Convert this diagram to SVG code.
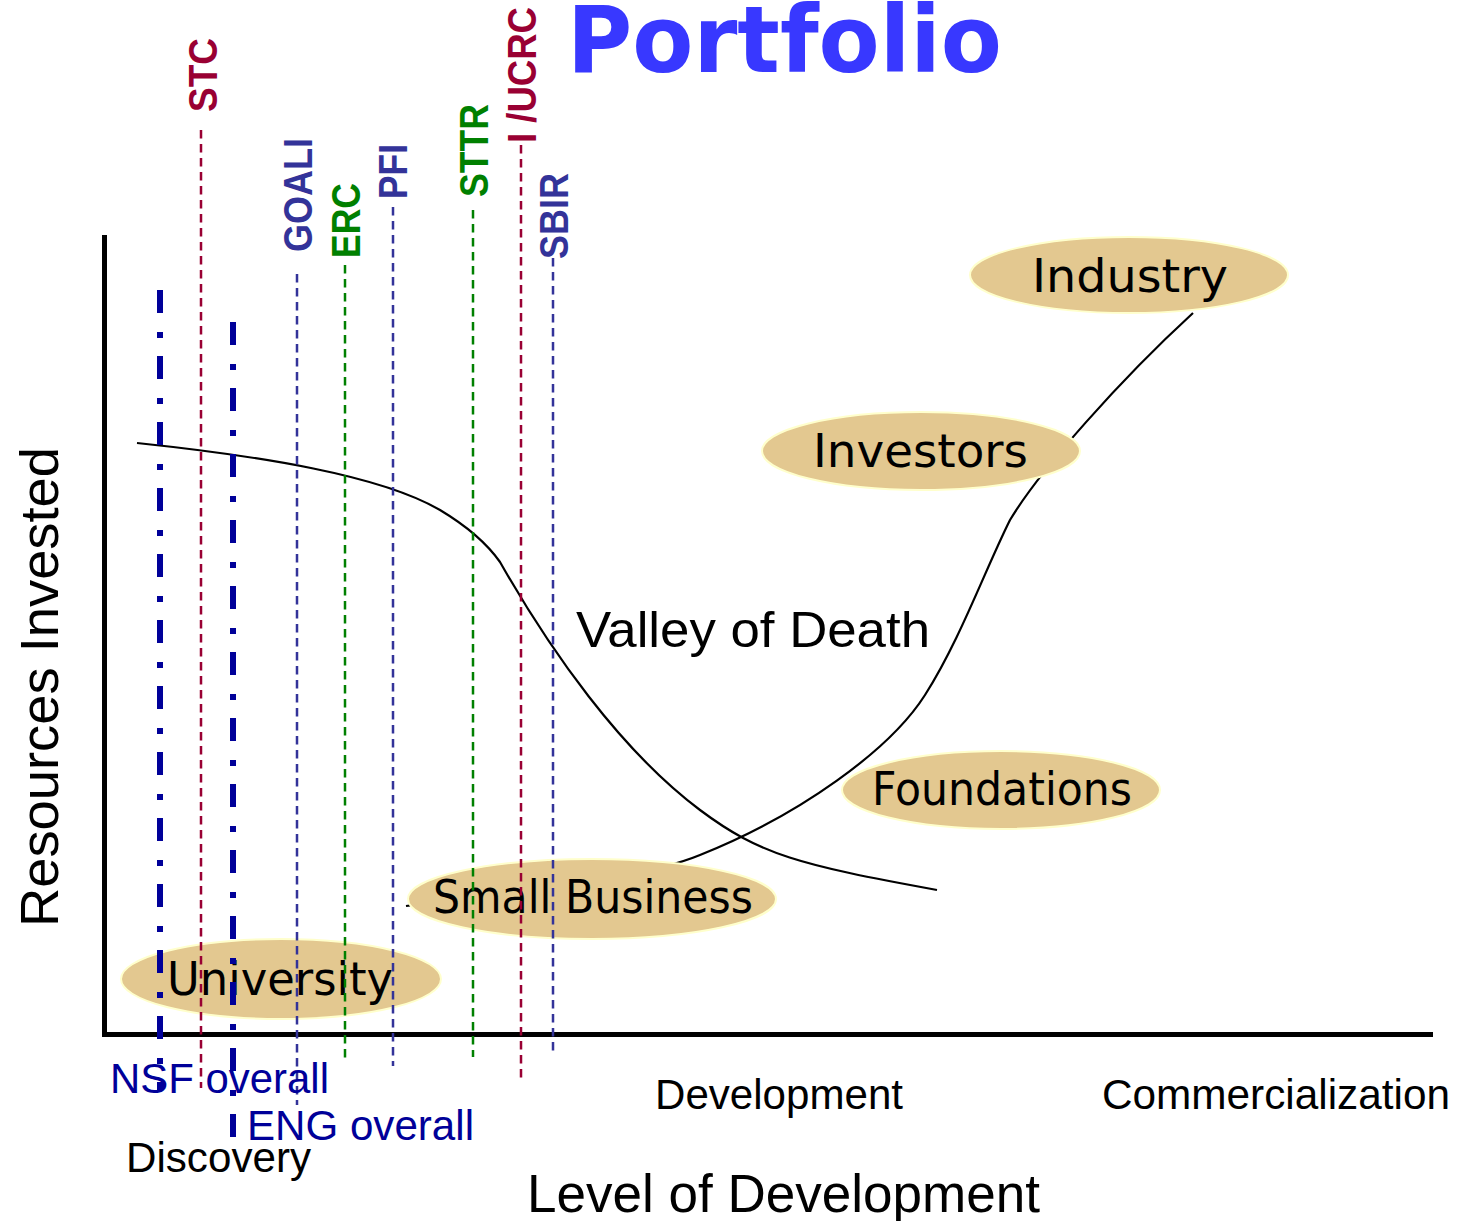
<svg xmlns="http://www.w3.org/2000/svg" width="1459" height="1221" viewBox="0 0 1459 1221">
<style>
.bg{fill:#fff}
.axis{stroke:#000;stroke-width:5;fill:none}
.curve{stroke:#000;stroke-width:2.2;fill:none}
.ell{fill:#E3C890;stroke:#FFFFCC;stroke-width:2}
.etxt{font-family:"DejaVu Sans","Liberation Sans",sans-serif;font-size:46px;fill:#000}
.lbl{font-family:"Liberation Sans",Arial,sans-serif;font-size:40px;font-weight:bold}
.txt{font-family:"Liberation Sans",Arial,sans-serif;fill:#000}
.thin{stroke-width:2.5;stroke-dasharray:8.5 5.5;fill:none}
.dd{stroke:#000099;stroke-width:6;stroke-dasharray:23 19 6 18;fill:none}
.red{stroke:#990033}.blu{stroke:#333399}.grn{stroke:#008000}
.fred{fill:#990033}.fblu{fill:#333399}.fgrn{fill:#008000}.fnavy{fill:#000099}
</style>
<rect class="bg" x="0" y="0" width="1459" height="1221"/>
<text x="567" y="72" font-family="'DejaVu Sans','Liberation Sans',sans-serif" font-weight="bold" font-size="92" fill="#3838FF" textLength="435" lengthAdjust="spacingAndGlyphs">Portfolio</text>
<g id="axes">
<line class="axis" x1="104.5" y1="235" x2="104.5" y2="1036"/>
<line class="axis" x1="102" y1="1034.5" x2="1433" y2="1034.5"/>
</g>
<g id="connectors">
<path class="curve" d="M137,443 C260,456 380,475 440,510 C470,528 488,545 500,562 C550,650 620,750 700,810 C760,855 800,865 937,890"/>
<path class="curve" d="M406,906 C520,890 640,880 700,855 C800,815 890,750 925,695 C960,640 985,570 1010,520 C1040,470 1120,380 1193,313"/>
</g>
<g id="node-industry">
<ellipse class="ell" cx="1129" cy="275" rx="159" ry="38"/>
<text class="etxt" x="1032" y="292" textLength="196" lengthAdjust="spacingAndGlyphs">Industry</text>
</g>
<g id="node-investors">
<ellipse class="ell" cx="921" cy="451" rx="159" ry="39"/>
<text class="etxt" x="813" y="467" textLength="215" lengthAdjust="spacingAndGlyphs">Investors</text>
</g>
<g id="node-foundations">
<ellipse class="ell" cx="1001" cy="790" rx="159" ry="39"/>
<text class="etxt" x="872" y="805" textLength="260" lengthAdjust="spacingAndGlyphs">Foundations</text>
</g>
<g id="node-small-business">
<ellipse class="ell" cx="592" cy="899" rx="184" ry="40"/>
<text class="etxt" x="433" y="913" textLength="320" lengthAdjust="spacingAndGlyphs">Small Business</text>
</g>
<g id="node-university">
<ellipse class="ell" cx="281" cy="979" rx="160" ry="40"/>
<text class="etxt" x="167" y="995" textLength="226" lengthAdjust="spacingAndGlyphs">University</text>
</g>
<g id="programs">
<line class="dd" x1="160" y1="290" x2="160" y2="1090"/>
<line class="dd" x1="233" y1="322" x2="233" y2="1138"/>
<line class="thin red" x1="201" y1="130" x2="201" y2="1088"/>
<line class="thin blu" x1="297" y1="274" x2="297" y2="1105"/>
<line class="thin grn" x1="345" y1="265" x2="345" y2="1058"/>
<line class="thin blu" x1="393" y1="207" x2="393" y2="1066"/>
<line class="thin grn" x1="473" y1="210" x2="473" y2="1057"/>
<line class="thin red" x1="521" y1="145" x2="521" y2="1082"/>
<line class="thin blu" x1="553" y1="258" x2="553" y2="1052"/>
<text class="lbl fred" transform="translate(217,112) rotate(-90)" textLength="74" lengthAdjust="spacingAndGlyphs">STC</text>
<text class="lbl fblu" transform="translate(312,252) rotate(-90)" textLength="114" lengthAdjust="spacingAndGlyphs">GOALI</text>
<text class="lbl fgrn" transform="translate(360,258) rotate(-90)" textLength="75" lengthAdjust="spacingAndGlyphs">ERC</text>
<text class="lbl fblu" transform="translate(407,199) rotate(-90)" textLength="55" lengthAdjust="spacingAndGlyphs">PFI</text>
<text class="lbl fgrn" transform="translate(488,197) rotate(-90)" textLength="93" lengthAdjust="spacingAndGlyphs">STTR</text>
<text class="lbl fred" transform="translate(536,143) rotate(-90)" textLength="136" lengthAdjust="spacingAndGlyphs">I /UCRC</text>
<text class="lbl fblu" transform="translate(568,259) rotate(-90)" textLength="86" lengthAdjust="spacingAndGlyphs">SBIR</text>
</g>
<g id="labels">
<text class="txt" transform="translate(58,927) rotate(-90)" font-size="54" textLength="480" lengthAdjust="spacingAndGlyphs">Resources Invested</text>
<text class="txt" x="576" y="647" font-size="50" textLength="354" lengthAdjust="spacingAndGlyphs">Valley of Death</text>
<text class="txt" x="655" y="1109" font-size="42" textLength="248" lengthAdjust="spacingAndGlyphs">Development</text>
<text class="txt" x="1102" y="1109" font-size="42" textLength="348" lengthAdjust="spacingAndGlyphs">Commercialization</text>
<text class="txt" x="527" y="1212" font-size="53" textLength="513" lengthAdjust="spacingAndGlyphs">Level of Development</text>
<text class="txt" x="126" y="1172" font-size="42" textLength="185" lengthAdjust="spacingAndGlyphs">Discovery</text>
<text class="txt fnavy" x="110" y="1093" font-size="42" textLength="219" lengthAdjust="spacingAndGlyphs">NSF overall</text>
<text class="txt fnavy" x="247" y="1140" font-size="42" textLength="227" lengthAdjust="spacingAndGlyphs">ENG overall</text>
</g>
</svg>
